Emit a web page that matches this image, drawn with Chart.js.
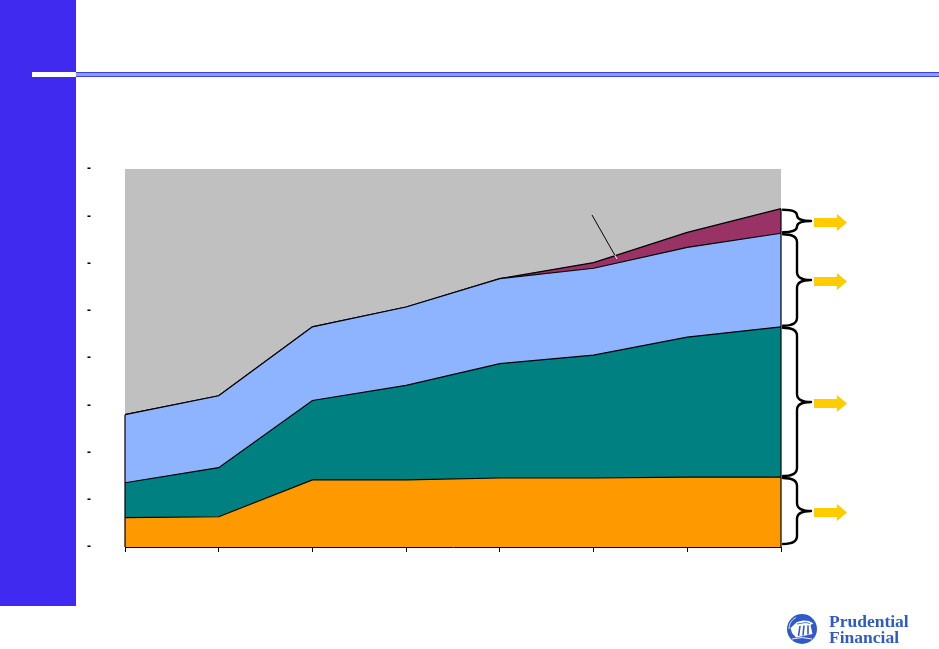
<!DOCTYPE html>
<html>
<head>
<meta charset="utf-8">
<script src="https://cdn.jsdelivr.net/npm/chart.js@4.4.1/dist/chart.umd.min.js"></script>
<style>
html,body{margin:0;padding:0;background:#fff;width:939px;height:649px;overflow:hidden;}
#side{position:absolute;left:0;top:0;width:76px;height:606px;background:#402AF0;}
#wbar{position:absolute;left:32px;top:72px;width:44px;height:5px;background:#fff;}
#hline{position:absolute;left:76px;top:72px;width:863px;height:3px;background:#86A2FF;border-top:1px solid #3E3EE8;border-bottom:1px solid #3E3EE8;}
#wrap{position:absolute;left:0;top:0;width:939px;height:649px;}
#logoIcon{position:absolute;left:786px;top:613px;}
.logoTxt{position:absolute;left:829px;font-family:"Liberation Serif","DejaVu Serif",serif;font-weight:bold;font-size:17.5px;color:#2F5AC8;line-height:1;white-space:nowrap;}
</style>
</head>
<body>
<div id="side"></div>
<div id="wbar"></div>
<div id="hline"></div>
<div id="wrap"><canvas id="c" width="939" height="649"></canvas></div>
<svg id="logoIcon" width="32" height="32" viewBox="0 0 32 32">
  <circle cx="16" cy="16" r="15" fill="#2F5AC8"/>
  <circle cx="16" cy="16" r="13" fill="none" stroke="#fff" stroke-width="0.8" stroke-dasharray="14 80" transform="rotate(180 16 16)"/>
  <path d="M4.5,15 L11,9 L17,7.5 L23,8 L27.5,10.5 L24.5,12 L26.5,21 L10,24.5 L6,20 Z" fill="#fff"/>
  <path d="M14,13 L12.5,23 M18,12.5 L17,22.5 M22,12.5 L22,21.5" stroke="#2F5AC8" stroke-width="1.6"/>
  <path d="M11,11 L20,9.5 L24,10.5" stroke="#2F5AC8" stroke-width="0.8" fill="none"/>
  <path d="M6,26 Q16,23 26,26" stroke="#fff" stroke-width="0.9" fill="none"/>
</svg>
<div class="logoTxt" style="top:613px;">Prudential</div>
<div class="logoTxt" style="top:629px;">Financial</div>
<script>
// ---- data ----
const periods = ['P1','P2','P3','P4','P5','P6','P7','P8'];
const yMin = 0;
const yMax = 400;
const yStep = 50;
const orangeSeries = [31, 32, 71, 71, 73, 73, 74, 74];
const tealSeries   = [37, 52, 84, 100, 121, 130, 148, 159];
const blueSeries   = [72, 76, 78, 83, 90, 92, 95, 99];
const maroonSeries = [0, 0, 0, 0, 0, 6, 16, 26];

const seriesList = [orangeSeries, tealSeries, blueSeries, maroonSeries];
function cumTop(i, upto){ let s=0; for(let k=0;k<=upto;k++) s+=seriesList[k][i]; return s; }

const plotBg = {
  id:'plotBg',
  beforeDatasetsDraw(chart){
    const {ctx, chartArea:a} = chart;
    ctx.save(); ctx.fillStyle='#C0C0C0';
    ctx.fillRect(a.left, a.top, a.right-a.left, a.bottom-a.top);
    ctx.restore();
  }
};

const edges = {
  id:'edges',
  afterDatasetsDraw(chart){
    const {ctx, scales:{x,y}} = chart;
    const last = periods.length-1;
    ctx.save(); ctx.strokeStyle='#000'; ctx.lineWidth=1.2;
    [0,last].forEach(i=>{
      const px = x.getPixelForValue(i);
      ctx.beginPath();
      ctx.moveTo(px, y.getPixelForValue(cumTop(i,3)));
      ctx.lineTo(px, y.getPixelForValue(0));
      ctx.stroke();
    });
    // leader line toward the thin top band
    const x5 = x.getPixelForValue(5), x6 = x.getPixelForValue(6);
    const t = 0.25;
    const ex = x5 + t*(x6-x5);
    const topM = (1-t)*cumTop(5,3)+t*cumTop(6,3);
    const topB = (1-t)*cumTop(5,2)+t*cumTop(6,2);
    const eyTop = y.getPixelForValue(topM);
    const ey = (y.getPixelForValue(topM)+y.getPixelForValue(topB))/2;
    const sx = ex-25, sy = ey-44;
    ctx.lineWidth=1;
    ctx.beginPath(); ctx.moveTo(sx,sy);
    const fr = (eyTop - sy)/(ey - sy);
    ctx.lineTo(sx+(ex-sx)*fr, eyTop); ctx.stroke();
    ctx.strokeStyle='#fff';
    ctx.beginPath(); ctx.moveTo(sx+(ex-sx)*fr, eyTop); ctx.lineTo(ex,ey); ctx.stroke();
    ctx.restore();
  }
};

function brace(ctx, x0, xv, xtip, top, bottom){
  const mid = (top+bottom)/2;
  const r = Math.min(8, (bottom-top)/4);
  ctx.beginPath();
  ctx.moveTo(x0, top);
  ctx.quadraticCurveTo(xv, top, xv, top+r);
  ctx.lineTo(xv, mid-r);
  ctx.quadraticCurveTo(xv, mid, xtip, mid);
  ctx.quadraticCurveTo(xv, mid, xv, mid+r);
  ctx.lineTo(xv, bottom-r);
  ctx.quadraticCurveTo(xv, bottom, x0, bottom);
  ctx.stroke();
}
function arrow(ctx, xs, ym){
  ctx.beginPath();
  ctx.moveTo(xs, ym-4.5);
  ctx.lineTo(xs+23, ym-4.5);
  ctx.lineTo(xs+23, ym-8.5);
  ctx.lineTo(xs+33, ym);
  ctx.lineTo(xs+23, ym+8.5);
  ctx.lineTo(xs+23, ym+4.5);
  ctx.lineTo(xs, ym+4.5);
  ctx.closePath();
  ctx.fill();
}

const braces = {
  id:'braces',
  afterDraw(chart){
    const {ctx, chartArea:a, scales:{y}} = chart;
    const last = periods.length-1;
    const b = [y.getPixelForValue(0)];
    for(let k=0;k<4;k++) b.push(y.getPixelForValue(cumTop(last,k)));
    const x0 = a.right+2, xv = a.right+16, xtip = a.right+30;
    ctx.save();
    ctx.strokeStyle='#000'; ctx.lineWidth=2.4; ctx.lineJoin='round'; ctx.lineCap='round';
    ctx.fillStyle='#FFCC00';
    const spans = [[b[4],b[3]],[b[3],b[2]],[b[2],b[1]],[b[1],b[0]-2]];
    spans.forEach(([t,bt],i)=>{
      brace(ctx, x0, xv, xtip, t+1, bt-1);
      arrow(ctx, a.right+33, (t+bt)/2+1.5);
    });
    ctx.restore();
  }
};

const mk = (data, color, fill) => ({
  data, backgroundColor: color, borderColor:'#000', borderWidth:1.2,
  fill, pointRadius:0, tension:0
});

new Chart(document.getElementById('c'), {
  type:'line',
  data:{
    labels: periods,
    datasets:[
      mk(orangeSeries, '#FF9900', 'origin'),
      mk(tealSeries, '#008080', '-1'),
      mk(blueSeries, '#8FB4FF', '-1'),
      mk(maroonSeries, '#993366', '-1')
    ]
  },
  options:{
    responsive:false, animation:false, devicePixelRatio:1,
    layout:{padding:{left:0,right:158,top:169,bottom:0}},
    plugins:{legend:{display:false}, tooltip:{enabled:false}},
    scales:{
      x:{
        type:'category', offset:false, stacked:true,
        ticks:{display:false},
        grid:{display:true, drawOnChartArea:false, drawTicks:true, tickLength:5, color:'#000', lineWidth:1},
        border:{display:true, color:'#000', width:1},
        afterFit(s){ s.height = 102; }
      },
      y:{
        stacked:true, min:yMin, max:yMax,
        ticks:{stepSize:yStep, callback:()=>'-', padding:34, color:'#000', font:{family:'Liberation Sans', size:12, weight:'bold'}},
        grid:{display:false, drawTicks:false},
        border:{display:false},
        afterFit(s){ s.width = 125; }
      }
    }
  },
  plugins:[plotBg, edges, braces]
});
</script>
</body>
</html>
